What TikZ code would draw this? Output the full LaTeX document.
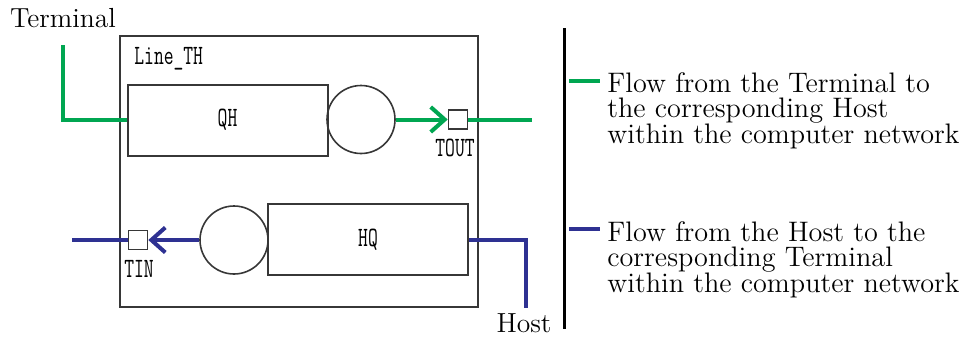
\documentclass[tikz,border=0pt]{standalone}
\usepackage{fontspec}
\newfontfamily\monof[FakeStretch=0.68]{Latin Modern Mono}
\usetikzlibrary{arrows.meta}
\definecolor{flowgreen}{RGB}{0,166,81}
\definecolor{flowblue}{RGB}{46,49,146}
\definecolor{boxgray}{RGB}{55,55,55}
\begin{document}
\begin{tikzpicture}[x=0.5pt,y=-0.5pt,
  serif/.style={font=\fontsize{13.8}{12.75}\selectfont, inner sep=0pt},
  legend/.style={font=\fontsize{14.1}{12.75}\selectfont, inner sep=0pt, anchor=north west, align=left},
  mono/.style={font=\monof\fontsize{14}{14}\selectfont, inner sep=0pt},
  frame/.style={draw=boxgray, line width=1pt, minimum width=179pt, minimum height=135.5pt, inner sep=0pt},
  queue/.style={draw=boxgray, line width=1pt, minimum width=100pt, minimum height=35.5pt, inner sep=0pt, font=\monof\fontsize{14}{14}\selectfont},
  server/.style={circle, draw=boxgray, line width=0.8pt, minimum size=34pt, inner sep=0pt},
  port/.style={draw=boxgray, line width=0.8pt, minimum size=9.5pt, inner sep=0pt, fill=white},
  gflow/.style={draw=flowgreen, line width=2pt},
  bflow/.style={draw=flowblue, line width=2pt},
  barb/.style={-{Straight Barb[length=7pt,width=12.5pt]}},
  divider/.style={draw=black, line width=1.5pt}
]
\useasboundingbox (0,0) rectangle (961,338);

% frame and labels
\node[frame] (frame) at (299,171.5) {};
\node[serif, anchor=base] (terminal) at (63,27) {Terminal};
\node[mono, anchor=base west] (lineth) at (134,64) {Line\_TH};

% top row
\node[queue] (qh) at (227.5,120) {QH};
\node[server] (s1) at (361,119.5) {};
\node[port] (tout) at (458,119.5) {};
\node[mono] (toutlbl) at (455,148) {TOUT};
\coordinate (tstart) at (63,45);
\coordinate (gend) at (532,119.5);
\draw[gflow] (tstart) |- (qh.west);
\draw[gflow, barb] (s1.east) -- (tout.west);
\draw[gflow] (tout.east) -- (gend);

% bottom row
\node[queue] (hq) at (368,239.5) {HQ};
\node[server] (s2) at (234,240) {};
\node[port] (tin) at (138,240) {};
\node[mono] (tinlbl) at (139,269) {TIN};
\coordinate (bstart) at (72,240);
\coordinate (hostend) at (526,308);
\draw[bflow] (hq.east) -| (hostend);
\draw[bflow, barb] (s2.west) -- (tin.east);
\draw[bflow] (tin.west) -- (bstart);
\node[serif, anchor=base] (host) at (524,332) {Host};

% divider
\coordinate (dtop) at (564,28);
\coordinate (dbot) at (564,329);
\draw[divider] (dtop) -- (dbot);

% legend
\coordinate (lg1a) at (569,81);
\coordinate (lg1b) at (600,81);
\draw[gflow, line width=1.75pt] (lg1a) -- (lg1b);
\node[legend] (leg1) at (607,72) {Flow from the Terminal to\\the corresponding Host\\within the computer network};
\coordinate (lg2a) at (569,229);
\coordinate (lg2b) at (600,229);
\draw[bflow, line width=1.75pt] (lg2a) -- (lg2b);
\node[legend] (leg2) at (607,221) {Flow from the Host to the\\corresponding Terminal\\within the computer network};
\end{tikzpicture}
\end{document}
